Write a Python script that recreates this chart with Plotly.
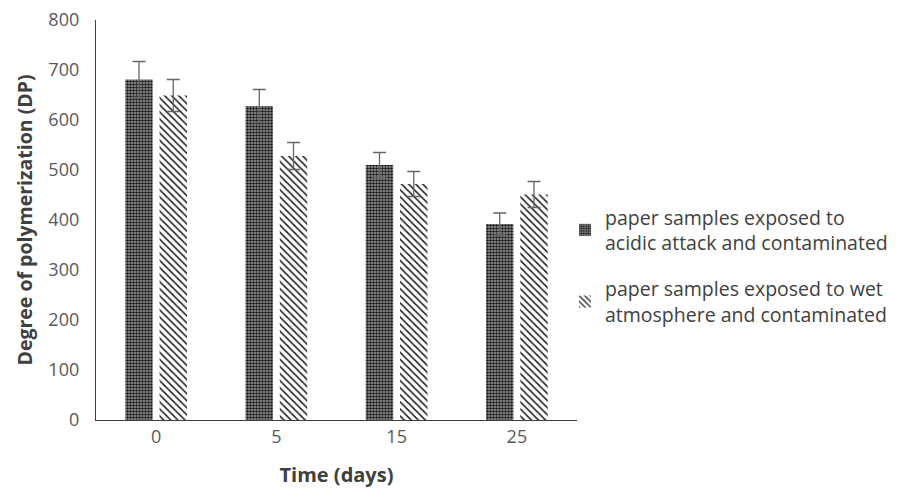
import plotly.graph_objects as go

categories = ["0", "5", "15", "25"]
acidic = [681, 628, 510, 392]
acidic_err = [36, 33, 25, 22]
wet = [649, 528, 472, 451]
wet_err = [32, 27, 25, 26]
names = ["paper samples exposed to<br>acidic attack and contaminated",
         "paper samples exposed to wet<br>atmosphere and contaminated"]

FONT = "Open Sans"
err_style = dict(type="data", visible=True, color="#666666", thickness=1.3, width=6.5)

fig = go.Figure()
fig.add_trace(go.Bar(
    x=categories, y=acidic, name=names[0], legendgroup="a",
    error_y=dict(array=acidic_err, **err_style),
    marker=dict(color="white", line=dict(width=0),
                pattern=dict(shape=".", fgcolor="#1a1a1a", bgcolor="#a0a0a0",
                             size=3, solidity=0.55, fillmode="replace")),
))
fig.add_trace(go.Bar(
    x=categories, y=wet, name=names[1], legendgroup="b",
    error_y=dict(array=wet_err, **err_style),
    marker=dict(color="white", line=dict(width=0),
                pattern=dict(shape="\\", fgcolor="#222222", bgcolor="white",
                             size=5, solidity=0.32, fillmode="replace")),
))

fig.update_layout(
    width=904, height=488,
    margin=dict(l=96, r=326, t=20, b=68),
    paper_bgcolor="white", plot_bgcolor="white",
    barmode="group", bargap=0.43, bargroupgap=0.2,
    font=dict(family=FONT, color="#404040", size=18),
    showlegend=True,
    legend=dict(x=0.973, xanchor="left", y=0.555, yanchor="top",
                font=dict(size=19.5, color="#404040"),
                traceorder="grouped", tracegroupgap=18,
                itemwidth=30, bgcolor="rgba(0,0,0,0)"),
    xaxis=dict(showline=True, linecolor="#404040", linewidth=1.3, automargin=False,
               ticks="", tickfont=dict(size=18, color="#595959"),
               title=dict(text="<b>Time (days)</b>", font=dict(size=20, color="#404040"), standoff=23)),
    yaxis=dict(range=[0, 800], dtick=100, showline=True, linecolor="#404040", linewidth=1.3,
               automargin=False,
               showgrid=False, zeroline=False, ticks="", ticklabelstandoff=12,
               tickfont=dict(size=18, color="#595959"),
               title=dict(text="<b>Degree of polymerization (DP)</b>", font=dict(size=19.5, color="#404040"), standoff=10)),
)

fig.write_html("out.html")
